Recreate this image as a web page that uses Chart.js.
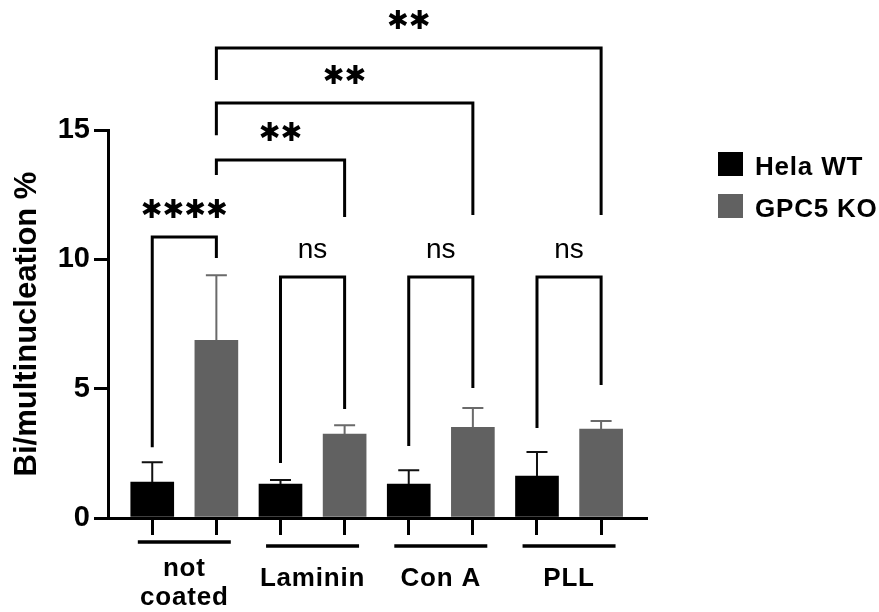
<!DOCTYPE html>
<html lang="en">
<head>
<meta charset="UTF-8">
<title>Bi/multinucleation %</title>
<style>
  html, body { margin: 0; padding: 0; background: #fff; }
  canvas { display: block; }
</style>
</head>
<body>
<canvas id="chart" width="879" height="612"></canvas>
<script src="https://cdn.jsdelivr.net/npm/chart.js"></script>
<script>
  // data
  const groups = [['not', 'coated'], 'Laminin', 'Con A', 'PLL'];
  const seriesNames = ['Hela WT', 'GPC5 KO'];
  const wtMean = [1.39, 1.31, 1.31, 1.62];
  const wtSd = [0.77, 0.16, 0.54, 0.93];
  const koMean = [6.87, 3.24, 3.51, 3.44];
  const koSd = [2.51, 0.35, 0.74, 0.31];
  const yTicks = [0, 5, 10, 15];

  // significance brackets (bar positions 1..8, heights in y units)
  const compFrom = [1, 2, 2, 2, 3, 5, 7];
  const compTo = [2, 4, 6, 8, 4, 6, 8];
  const compTop = [10.86, 13.84, 16.04, 18.17, 9.32, 9.32, 9.32];
  const compLeftEnd = [2.74, 13.26, 14.80, 16.93, 2.13, 2.78, 3.48];
  const compRightEnd = [10.05, 11.64, 11.71, 11.71, 4.21, 5.03, 5.14];
  const compLabel = ['✱✱✱✱', '✱✱', '✱✱', '✱✱', 'ns', 'ns', 'ns'];

  const colors = ['#000000', '#616161'];
  const errColors = ['#111111', '#6a6a6a'];
  const FONT = "'Liberation Sans', Arial, sans-serif";

  const wtPos = groups.map((g, i) => 2 * i + 1);
  const koPos = groups.map((g, i) => 2 * i + 2);
  const barPos = wtPos.concat(koPos).sort((a, b) => a - b);

  const errorBars = {
    id: 'errorBars',
    afterDatasetsDraw(chart) {
      const ctx = chart.ctx;
      const y = chart.scales.y;
      const sds = [wtSd, koSd];
      chart.data.datasets.forEach((ds, di) => {
        const meta = chart.getDatasetMeta(di);
        ctx.save();
        ctx.strokeStyle = errColors[di];
        ctx.lineWidth = 2;
        meta.data.forEach((bar, i) => {
          const top = y.getPixelForValue(ds.data[i].y + sds[di][i]);
          ctx.beginPath();
          ctx.moveTo(bar.x, bar.y);
          ctx.lineTo(bar.x, top);
          ctx.moveTo(bar.x - 10.5, top);
          ctx.lineTo(bar.x + 10.5, top);
          ctx.stroke();
        });
        ctx.restore();
      });
    }
  };

  const annotations = {
    id: 'annotations',
    afterDraw(chart) {
      const ctx = chart.ctx;
      const x = chart.scales.x;
      const y = chart.scales.y;
      ctx.save();
      ctx.strokeStyle = '#000';
      ctx.fillStyle = '#000';
      ctx.lineWidth = 3;
      ctx.lineCap = 'butt';
      ctx.lineJoin = 'miter';

      // brackets
      compFrom.forEach((a, i) => {
        const x1 = x.getPixelForValue(a);
        const x2 = x.getPixelForValue(compTo[i]);
        const yt = y.getPixelForValue(compTop[i]);
        ctx.beginPath();
        ctx.moveTo(x1, y.getPixelForValue(compLeftEnd[i]));
        ctx.lineTo(x1, yt);
        ctx.lineTo(x2, yt);
        ctx.lineTo(x2, y.getPixelForValue(compRightEnd[i]));
        ctx.stroke();
        ctx.textAlign = 'center';
        if (compLabel[i] === 'ns') {
          ctx.font = '28px ' + FONT;
          ctx.textBaseline = 'alphabetic';
          ctx.fillText(compLabel[i], (x1 + x2) / 2, yt - 19);
        } else {
          ctx.font = "bold 26px 'DejaVu Sans', sans-serif";
          ctx.textBaseline = 'middle';
          ctx.fillText(compLabel[i], (x1 + x2) / 2, yt - 26);
        }
      });

      // group labels with underline
      const bottom = chart.chartArea.bottom;
      ctx.font = 'bold 26px ' + FONT;
      ctx.letterSpacing = '0.8px';
      ctx.textAlign = 'center';
      ctx.textBaseline = 'alphabetic';
      groups.forEach((g, i) => {
        const cx = (x.getPixelForValue(wtPos[i]) + x.getPixelForValue(koPos[i])) / 2;
        const lines = Array.isArray(g) ? g : [g];
        const ul = bottom + (lines.length > 1 ? 24 : 28);
        ctx.lineWidth = 3.5;
        ctx.beginPath();
        ctx.moveTo(cx - 46.5, ul);
        ctx.lineTo(cx + 46.5, ul);
        ctx.stroke();
        if (lines.length > 1) {
          ctx.fillText(lines[0], cx, bottom + 58);
          ctx.fillText(lines[1], cx, bottom + 87);
        } else {
          ctx.fillText(lines[0], cx, bottom + 68);
        }
      });

      // legend
      ctx.textAlign = 'left';
      seriesNames.forEach((name, i) => {
        const ly = 152 + i * 42;
        ctx.fillStyle = colors[i];
        ctx.fillRect(718, ly, 25, 24);
        ctx.fillStyle = '#000';
        ctx.fillText(name, 755, ly + 23);
      });
      ctx.letterSpacing = '0px';
      ctx.restore();
    }
  };

  new Chart(document.getElementById('chart'), {
    type: 'bar',
    data: {
      datasets: [
        {
          label: seriesNames[0],
          data: wtMean.map((v, i) => ({ x: wtPos[i], y: v })),
          backgroundColor: colors[0]
        },
        {
          label: seriesNames[1],
          data: koMean.map((v, i) => ({ x: koPos[i], y: v })),
          backgroundColor: colors[1]
        }
      ]
    },
    options: {
      responsive: false,
      animation: false,
      grouped: false,
      categoryPercentage: 1,
      barPercentage: 1,
      maxBarThickness: 43,
      layout: { padding: { top: 130, right: 233, left: 0, bottom: 0 } },
      plugins: { legend: { display: false }, tooltip: { enabled: false } },
      scales: {
        x: {
          type: 'linear',
          offset: false,
          min: 0.31,
          max: 8.7,
          afterBuildTicks: (s) => { s.ticks = barPos.map(v => ({ value: v })); },
          afterFit: (s) => { s.height = 94; },
          border: { color: '#000', width: 3 },
          grid: { offset: false, drawOnChartArea: false, color: '#000', lineWidth: 3, tickLength: 17 },
          ticks: { display: false }
        },
        y: {
          min: 0,
          max: 15,
          afterBuildTicks: (s) => { s.ticks = yTicks.map(v => ({ value: v })); },
          afterFit: (s) => { s.width = 108; },
          border: { color: '#000', width: 3 },
          grid: { drawOnChartArea: false, color: '#000', lineWidth: 3, tickLength: 14 },
          ticks: { color: '#000', padding: 4, font: { family: FONT, size: 29, weight: 'bold' } },
          title: {
            display: true,
            text: 'Bi/multinucleation %',
            color: '#000',
            padding: { top: 9, bottom: 0 },
            font: { family: FONT, size: 31, weight: 'bold', lineHeight: 1.2 }
          }
        }
      }
    },
    plugins: [errorBars, annotations]
  });
</script>
</body>
</html>
